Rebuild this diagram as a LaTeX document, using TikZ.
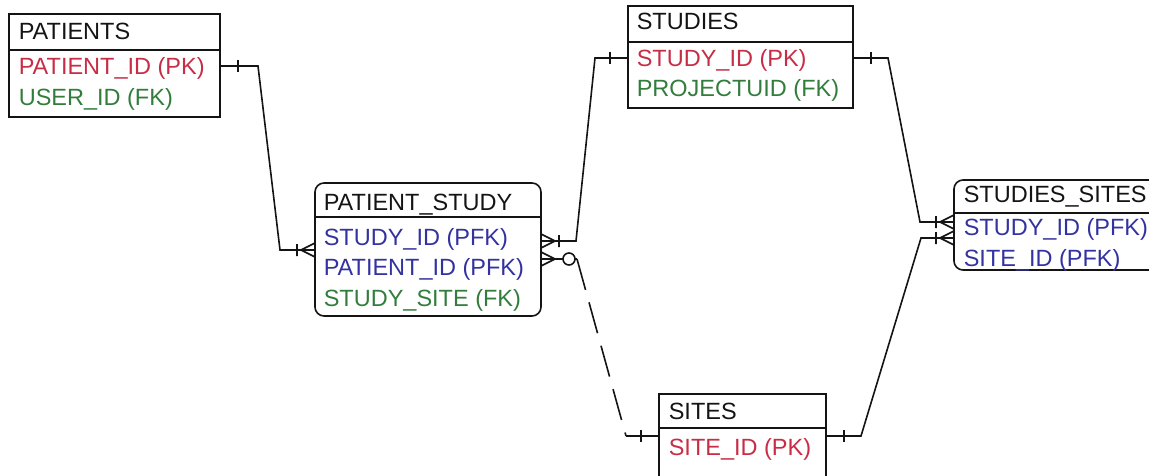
\documentclass[tikz,border=0pt]{standalone}
\usepackage{fontspec}
\setmainfont{Liberation Sans}
\definecolor{pkred}{RGB}{200,45,70}
\definecolor{fkgreen}{RGB}{50,125,60}
\definecolor{pfkblue}{RGB}{50,50,160}
\definecolor{ink}{RGB}{20,20,20}
\begin{document}
\begin{tikzpicture}[x=1pt,y=-1pt,line width=1.6pt,
  tbl/.style={draw=ink,anchor=north west,inner sep=0pt,outer sep=0pt},
  rtbl/.style={tbl,rounded corners=9pt},
  txt/.style={anchor=base west,inner sep=0pt,font=\fontsize{23.5}{28}\selectfont},
  ttl/.style={txt,text=ink},
  pk/.style={txt,text=pkred},
  fk/.style={txt,text=fkgreen},
  pfk/.style={txt,text=pfkblue},
  conn/.style={draw=ink,line width=1.6pt},
  one/.pic={\draw[conn] (-18,-6) -- (-18,6);},
  crow/.pic={\draw[conn] (0,-7) -- (-14,0) -- (0,7) (0,0) -- (-14,0) (-18,-6) -- (-18,6);},
  crowo/.pic={\draw[conn] (0,-7) -- (-14,0) -- (0,7) (0,0) -- (-22,0);
              \draw[conn,fill=white] (-28,0) circle[radius=6];}
]
\useasboundingbox (0,0) rectangle (1149,476);
\clip (0,0) rectangle (1149,476);

% tables
\node[tbl,minimum width=211pt,minimum height=103pt] (patients) at (9,14) {};
\draw[conn] (patients.west |- 0,50) -- (patients.east |- 0,50);
\node[ttl] (patT) at (18,40) {PATIENTS};
\node[pk]  (patA) at (18,75) {PATIENT\_ID (PK)};
\node[fk]  (patB) at (18,106) {USER\_ID (FK)};

\node[tbl,minimum width=225pt,minimum height=102pt] (studies) at (628,6) {};
\draw[conn] (studies.west |- 0,42) -- (studies.east |- 0,42);
\node[ttl] (stuT) at (636,30) {STUDIES};
\node[pk]  (stuA) at (636,67) {STUDY\_ID (PK)};
\node[fk]  (stuB) at (636,97) {PROJECTUID (FK)};

\node[rtbl,minimum width=226pt,minimum height=133pt] (pstudy) at (315,183) {};
\draw[conn] (pstudy.west |- 0,217) -- (pstudy.east |- 0,217);
\node[ttl] (psT) at (323,210) {PATIENT\_STUDY};
\node[pfk] (psA) at (323,245) {STUDY\_ID (PFK)};
\node[pfk] (psB) at (323,275) {PATIENT\_ID (PFK)};
\node[fk]  (psC) at (323,306) {STUDY\_SITE (FK)};

\node[rtbl,minimum width=220pt,minimum height=90pt] (ssites) at (954,180) {};
\draw[conn] (ssites.west |- 0,213) -- (ssites.east |- 0,213);
\node[ttl] (ssT) at (963,202) {STUDIES\_SITES};
\node[pfk] (ssA) at (963,235) {STUDY\_ID (PFK)};
\node[pfk] (ssB) at (963,266) {SITE\_ID (PFK)};

\node[tbl,minimum width=167pt,minimum height=110pt] (sites) at (659,394) {};
\draw[conn] (sites.west |- 0,428) -- (sites.east |- 0,428);
\node[ttl] (siT) at (668,419) {SITES};
\node[pk]  (siA) at (668,455) {SITE\_ID (PK)};

% connector PATIENTS -> PATIENT_STUDY
\coordinate (c1a) at (258,66);
\coordinate (c1b) at (280,250);
\draw[conn] (patients.east |- c1a) -- (c1a) -- (c1b) -- (pstudy.west |- c1b);
\pic[rotate=180] at (patients.east |- c1a) {one};
\pic at (pstudy.west |- c1b) {crow};

% connector STUDIES -> PATIENT_STUDY
\coordinate (c2a) at (595,58);
\coordinate (c2b) at (576,241);
\draw[conn] (studies.west |- c2a) -- (c2a) -- (c2b) -- (pstudy.east |- c2b);
\pic at (studies.west |- c2a) {one};
\pic[rotate=180] at (pstudy.east |- c2b) {crow};

% connector SITES -> PATIENT_STUDY (optional)
\coordinate (c3a) at (577,259);
\coordinate (c3b) at (626,436);
\draw[conn] (pstudy.east |- c3a) -- (c3a);
\pic[rotate=180] at (pstudy.east |- c3a) {crowo};
\draw[conn,dash pattern=on 32pt off 13pt] (c3a) -- (c3b);
\draw[conn] (c3b) -- (sites.west |- c3b);
\pic at (sites.west |- c3b) {one};

% connector STUDIES -> STUDIES_SITES
\coordinate (c4a) at (888,58);
\coordinate (c4b) at (920,222);
\draw[conn] (studies.east |- c4a) -- (c4a) -- (c4b) -- (ssites.west |- c4b);
\pic[rotate=180] at (studies.east |- c4a) {one};
\pic at (ssites.west |- c4b) {crow};

% connector SITES -> STUDIES_SITES
\coordinate (c5a) at (861,436);
\coordinate (c5b) at (921,238);
\draw[conn] (sites.east |- c5a) -- (c5a) -- (c5b) -- (ssites.west |- c5b);
\pic[rotate=180] at (sites.east |- c5a) {one};
\pic at (ssites.west |- c5b) {crow};
\end{tikzpicture}
\end{document}
